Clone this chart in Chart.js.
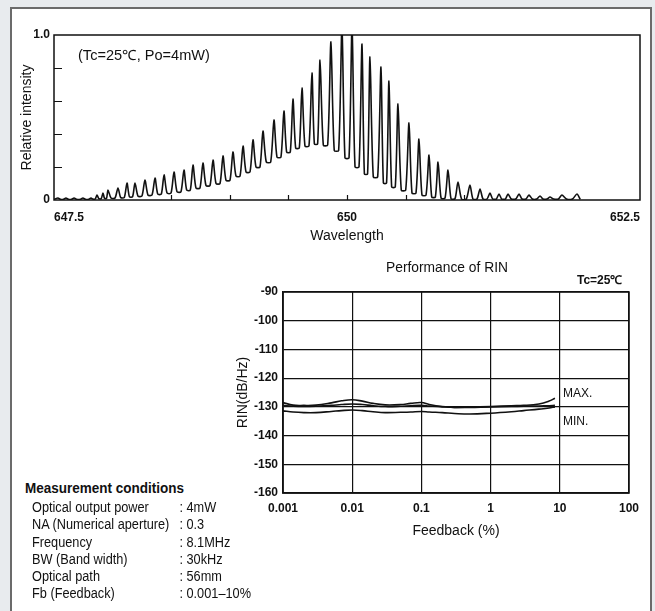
<!DOCTYPE html>
<html>
<head>
<meta charset="utf-8">
<script src="https://cdn.jsdelivr.net/npm/chart.js@4.4.0/dist/chart.umd.min.js"></script>
<style>
  body { margin: 0; width: 655px; height: 611px; background: #e8ebee; position: relative; overflow: hidden;
         font-family: "Liberation Sans", Arial, sans-serif; color: #111; }
  #frame { position: absolute; left: 10px; top: 7px; width: 638px; height: 620px; border: 2px solid #6b6b6b; background: #fff; }
  .box { position: absolute; }
  .t { position: absolute; white-space: nowrap; transform-origin: 0 50%; }
</style>
</head>
<body>
<div id="frame"></div>
<div class="box" style="left:0;top:0"><canvas id="specChart" width="655" height="250"></canvas></div>
<div class="box" style="left:200px;top:250px"><canvas id="rinChart" width="455" height="300"></canvas></div>

<div class="t" style="left:78px;top:45px;font-size:14px;transform:scaleX(1.04)">(Tc=25℃, Po=4mW)</div>
<div class="t" style="left:386px;top:258px;font-size:15px;transform:scaleX(0.92)">Performance of RIN</div>
<div class="t" style="left:577px;top:271px;font-size:12px;font-weight:bold">Tc=25℃</div>
<div class="t" style="left:563px;top:386px;font-size:12px">MAX.</div>
<div class="t" style="left:563px;top:414px;font-size:12px">MIN.</div>

<div class="t" style="left:25px;top:479px;font-weight:bold;font-size:15px;transform:scaleX(0.9)">Measurement conditions</div>
<div class="t" id="conds" style="left:32px;top:499px;font-size:14px;line-height:17.3px;transform:scaleX(0.91);transform-origin:0 0"></div>

<script>
// spectrum: longitudinal modes (wavelength nm, relative intensity)
const peakWl = [647.534, 647.602, 647.671, 647.747, 647.816, 647.867, 647.918, 647.961, 648.046, 648.123,
  648.191, 648.276, 648.362, 648.439, 648.524, 648.609, 648.686, 648.771, 648.857, 648.942,
  649.027, 649.113, 649.198, 649.283, 649.377, 649.462, 649.539, 649.616, 649.701, 649.770,
  649.863, 649.957, 650.043, 650.128, 650.196, 650.290, 650.358, 650.435, 650.529, 650.614,
  650.700, 650.777, 650.862, 650.947, 651.049, 651.135, 651.220, 651.297, 651.374, 651.468,
  651.553, 651.647, 651.732, 651.834, 651.962]
const peakRel = [0.012, 0.012, 0.012, 0.012, 0.012, 0.03, 0.042, 0.06, 0.073, 0.103,
  0.103, 0.121, 0.133, 0.152, 0.17, 0.182, 0.212, 0.224, 0.242, 0.267,
  0.291, 0.327, 0.364, 0.418, 0.485, 0.539, 0.612, 0.679, 0.77, 0.848,
  0.958, 1.05, 1.05, 0.945, 0.867, 0.806, 0.721, 0.582, 0.467, 0.37,
  0.273, 0.23, 0.182, 0.109, 0.091, 0.067, 0.042, 0.036, 0.036, 0.036,
  0.03, 0.024, 0.018, 0.03, 0.036]
// floor level between neighbouring modes
const valleyRel = [0.004, 0.004, 0.004, 0.004, 0.006, 0.008, 0.01, 0.012, 0.015, 0.02,
  0.024, 0.03, 0.036, 0.042, 0.05, 0.06, 0.073, 0.088, 0.1, 0.12,
  0.145, 0.17, 0.2, 0.23, 0.26, 0.29, 0.315, 0.327, 0.34, 0.333,
  0.3, 0.255, 0.2, 0.158, 0.14, 0.103, 0.079, 0.06, 0.042, 0.03,
  0.018, 0.012, 0.008, 0.006, 0.006, 0.006, 0.006, 0.006, 0.006, 0.006,
  0.006, 0.006, 0.006, 0.006]
const specStart = [647.5, 0.004]
const specEnd = [651.99, 0.004]
const specLabels = [647.5, 650, 652.5]
const specXMarks = [648.5, 649, 649.5, 650, 650.5, 651]
const specYLabels = [0, 1]
const specYMarks = [0.2, 0.4, 0.6, 0.8]

// RIN vs feedback
const feedback = [0.001, 0.0014, 0.002, 0.003, 0.005, 0.007, 0.01, 0.014, 0.02, 0.03, 0.05, 0.07,
  0.1, 0.13, 0.2, 0.3, 0.5, 1, 2, 3, 5, 7, 8.5]
const rinMax = [-128.5, -129.4, -129.5, -129.4, -128.6, -127.9, -127.5, -128, -128.8, -129.3, -129.2, -128.8,
  -128.5, -129.2, -129.9, -130.2, -130.1, -129.9, -129.6, -129.5, -129, -128, -127]
const rinMid = [-129.5, -129.8, -129.9, -129.8, -129.5, -129.2, -129, -129.2, -129.6, -129.9, -129.8, -129.6,
  -129.5, -129.7, -130, -130.2, -130.2, -130, -129.9, -129.8, -129.7, -129.6, -129.5]
const rinMin = [-131.4, -131.8, -132, -132, -131.6, -131.3, -131.1, -131.3, -131.7, -132, -131.9, -131.8,
  -131.6, -131.8, -132, -132.3, -132.5, -132.2, -131.7, -131.3, -130.8, -130.4, -130]
const rinTicks = [0.001, 0.01, 0.1, 1, 10, 100]
const rinTickText = ['0.001', '0.01', '0.1', '1', '10', '100']

const conditions = [
  ['Optical output power', ': 4mW'],
  ['NA (Numerical aperture)', ': 0.3'],
  ['Frequency', ': 8.1MHz'],
  ['BW (Band width)', ': 30kHz'],
  ['Optical path', ': 56mm'],
  ['Fb (Feedback)', ': 0.001\u201310%']
]
document.getElementById('conds').innerHTML = conditions
  .map(r => `<div><span style="display:inline-block;width:162px">${r[0]}</span>${r[1]}</div>`).join('')

const plain = '"Liberation Sans", Arial, sans-serif'
const ink = '#111'

// polyline of the spectrum: each mode is a narrow spike, the floor between
// two modes is held at its read level over the middle of the gap
const specPoints = [{ x: specStart[0], y: specStart[1] }]
peakWl.forEach((wl, i) => {
  specPoints.push({ x: wl, y: peakRel[i] })
  if (i < valleyRel.length) {
    const gap = peakWl[i + 1] - wl
    specPoints.push({ x: wl + gap * 0.3, y: valleyRel[i] })
    specPoints.push({ x: wl + gap * 0.7, y: valleyRel[i] })
  }
})
specPoints.push({ x: specEnd[0], y: specEnd[1] })

// box round the plot area and short inward tick marks
const frameBox = {
  id: 'frameBox',
  afterDraw (chart, args, opts) {
    const { ctx, chartArea: a, scales } = chart
    ctx.save()
    ctx.strokeStyle = ink
    ctx.lineWidth = 1.5
    ctx.strokeRect(a.left, a.top, a.right - a.left, a.bottom - a.top)
    if (opts.xMarks) {
      ctx.beginPath()
      opts.xMarks.forEach(v => {
        const px = Math.round(scales.x.getPixelForValue(v)) + 0.5
        ctx.moveTo(px, a.bottom)
        ctx.lineTo(px, a.bottom - 5)
      })
      opts.yMarks.forEach(v => {
        const py = Math.round(scales.y.getPixelForValue(v)) + 0.5
        ctx.moveTo(a.left, py)
        ctx.lineTo(a.left + 8, py)
      })
      ctx.lineWidth = 1.2
      ctx.stroke()
    }
    ctx.restore()
  }
}

new Chart(document.getElementById('specChart'), {
  type: 'line',
  data: {
    datasets: [{
      data: specPoints,
      borderColor: ink,
      borderWidth: 1.6,
      pointRadius: 0,
      tension: 0.25,
      clip: 0
    }]
  },
  options: {
    responsive: false,
    animation: false,
    events: [],
    layout: { padding: { top: 35, right: 15, left: 0, bottom: 0 } },
    plugins: {
      legend: { display: false },
      tooltip: { enabled: false },
      frameBox: { xMarks: specXMarks, yMarks: specYMarks }
    },
    scales: {
      x: {
        type: 'linear',
        min: 647.5,
        max: 652.5,
        afterBuildTicks: axis => { axis.ticks = specLabels.map(v => ({ value: v })) },
        afterFit: axis => { axis.height = 50 },
        grid: { display: false, drawTicks: false },
        border: { display: false },
        ticks: { align: 'inner', autoSkip: false, maxRotation: 0, padding: 10, color: ink,
          font: { family: plain, size: 12, weight: 'bold' }, callback: v => String(v) },
        title: { display: true, text: 'Wavelength', color: ink, font: { family: plain, size: 14 },
          padding: { top: 0, bottom: 5 } }
      },
      y: {
        min: 0,
        max: 1,
        afterBuildTicks: axis => { axis.ticks = specYLabels.map(v => ({ value: v })) },
        afterFit: axis => { axis.width = 54 },
        grid: { display: false, drawTicks: false },
        border: { display: false },
        ticks: { padding: 4, color: ink, font: { family: plain, size: 12, weight: 'bold' },
          callback: v => (v === 0 ? '0' : v.toFixed(1)) },
        title: { display: true, text: 'Relative intensity', color: ink, font: { family: plain, size: 14 },
          padding: { top: 19, bottom: 0 } }
      }
    }
  },
  plugins: [frameBox]
})

const rinLine = vals => ({
  data: vals.map((v, i) => ({ x: feedback[i], y: v })),
  borderColor: ink,
  borderWidth: 1.6,
  pointRadius: 0,
  tension: 0.4
})

new Chart(document.getElementById('rinChart'), {
  type: 'line',
  data: { datasets: [rinLine(rinMax), rinLine(rinMid), rinLine(rinMin)] },
  options: {
    responsive: false,
    animation: false,
    events: [],
    layout: { padding: { top: 42, right: 26, left: 0, bottom: 0 } },
    plugins: { legend: { display: false }, tooltip: { enabled: false }, frameBox: {} },
    scales: {
      x: {
        type: 'logarithmic',
        min: 0.001,
        max: 100,
        afterBuildTicks: axis => { axis.ticks = rinTicks.map(v => ({ value: v })) },
        afterFit: axis => { axis.height = 57 },
        grid: { color: ink, lineWidth: 1.2, drawTicks: false },
        border: { display: true, color: ink, width: 1.5 },
        ticks: { autoSkip: false, maxRotation: 0, padding: 8, color: ink,
          font: { family: plain, size: 12, weight: 'bold' },
          callback: (v, i) => rinTickText[i] },
        title: { display: true, text: 'Feedback (%)', color: ink, font: { family: plain, size: 14 },
          padding: { top: 0, bottom: 10 } }
      },
      y: {
        min: -160,
        max: -90,
        afterFit: axis => { axis.width = 83 },
        grid: { color: ink, lineWidth: 1.2, drawTicks: false },
        border: { display: true, color: ink, width: 1.5 },
        ticks: { stepSize: 10, padding: 5, color: ink, font: { family: plain, size: 12, weight: 'bold' } },
        title: { display: true, text: 'RIN(dB/Hz)', color: ink, font: { family: plain, size: 14 },
          padding: { top: 35, bottom: 0 } }
      }
    }
  },
  plugins: [frameBox]
})
</script>
</body>
</html>
